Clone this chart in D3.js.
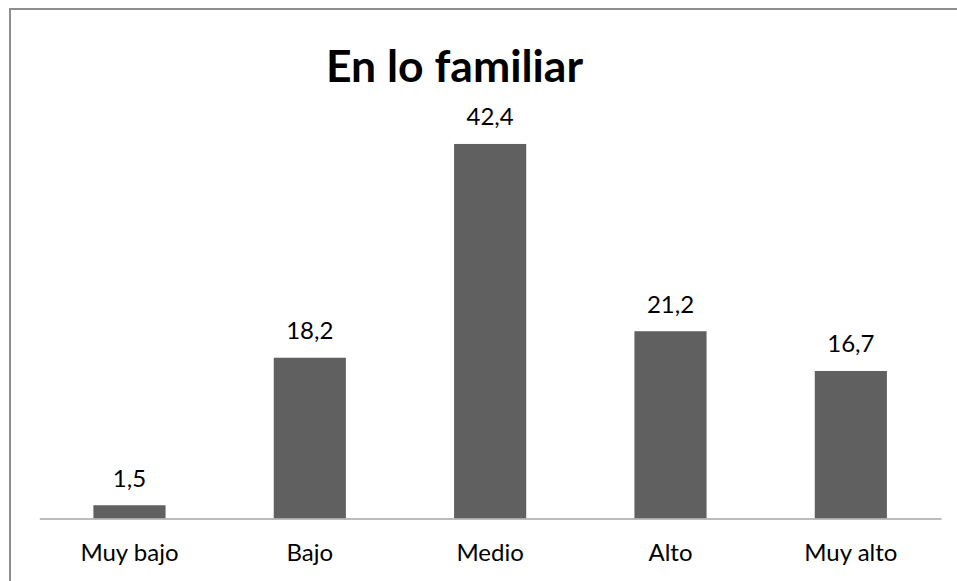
<!DOCTYPE html>
<html>
<head>
<meta charset="utf-8">
<script src="https://cdn.jsdelivr.net/npm/d3@7"></script>
<style>
  html, body { margin: 0; padding: 0; background: #ffffff; }
  svg { display: block; }
</style>
</head>
<body>
<svg id="chart" width="957" height="581"></svg>
<script>
// Chart data
const categories = ["Muy bajo", "Bajo", "Medio", "Alto", "Muy alto"];
const values = [1.5, 18.2, 42.4, 21.2, 16.7];
const valueLabels = ["1,5", "18,2", "42,4", "21,2", "16,7"];
const title = "En lo familiar";

const W = 957, H = 581;
const svg = d3.select("#chart");
const font = "Lato, 'Open Sans', sans-serif";

// Outer frame
svg.append("rect")
  .attr("x", 10).attr("y", 9)
  .attr("width", W + 10).attr("height", H + 10)
  .attr("fill", "#ffffff")
  .attr("stroke", "#8e8e8e")
  .attr("stroke-width", 2);

// Scales
const x = d3.scaleBand()
  .domain(categories)
  .range([39.3, 941])
  .paddingInner(0)
  .paddingOuter(0);

const y = d3.scaleLinear()
  .domain([0, 45])
  .range([518.5, 121]);

const barW = x.bandwidth() * 0.4;

// Bars
svg.append("g").selectAll("rect")
  .data(values)
  .join("rect")
  .attr("x", (d, i) => x(categories[i]) + (x.bandwidth() - barW) / 2)
  .attr("y", d => y(d))
  .attr("width", barW)
  .attr("height", d => y(0) - y(d))
  .attr("fill", "#606060");

// Category axis
const axis = d3.axisBottom(x).tickSize(0).tickPadding(0);
const gx = svg.append("g")
  .attr("transform", `translate(0,${y(0)})`)
  .call(axis);
gx.select(".domain")
  .attr("stroke", "#a6a6a6")
  .attr("stroke-width", 1.5);
gx.selectAll(".tick text")
  .attr("y", 42)
  .attr("dy", null)
  .attr("fill", "#000000")
  .style("font-family", font)
  .style("font-size", "24px");

// Value labels
svg.append("g").selectAll("text")
  .data(values)
  .join("text")
  .attr("x", (d, i) => x(categories[i]) + x.bandwidth() / 2)
  .attr("y", d => y(d) - 18.5)
  .attr("text-anchor", "middle")
  .attr("fill", "#000000")
  .style("font-family", font)
  .style("font-size", "24px")
  .text((d, i) => valueLabels[i]);

// Title
svg.append("text")
  .attr("x", 454.5)
  .attr("y", 81.7)
  .attr("text-anchor", "middle")
  .attr("fill", "#000000")
  .style("font-family", font)
  .style("font-weight", "bold")
  .style("font-size", "44.5px")
  .text(title);
</script>
</body>
</html>
